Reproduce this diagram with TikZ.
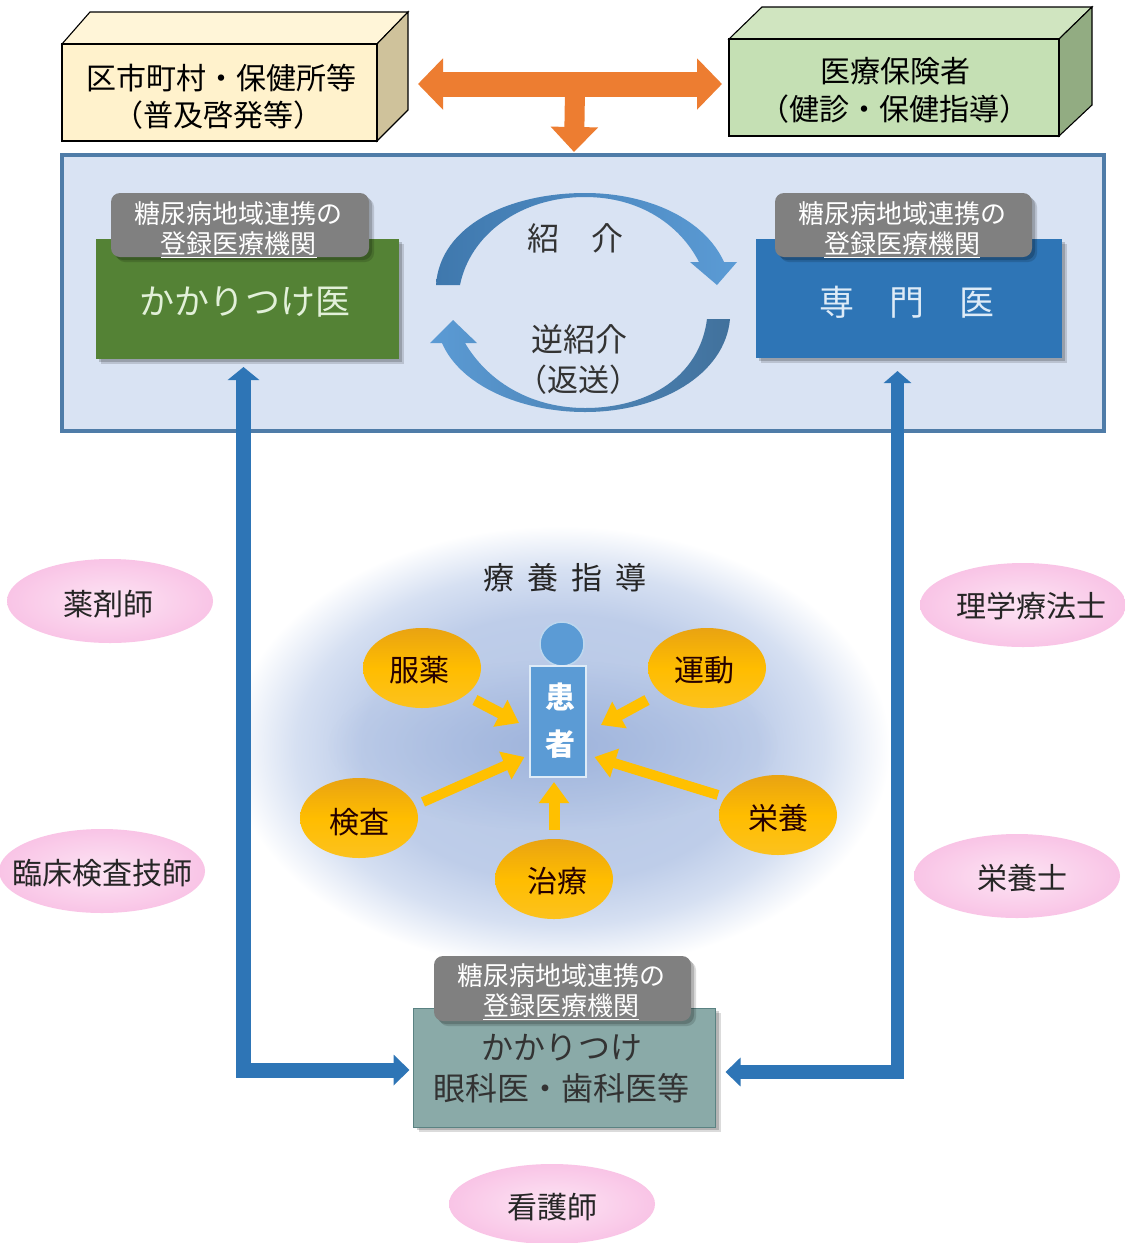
\documentclass[tikz,border=0pt]{standalone}
\usepackage{fontspec}
\setmainfont{Noto Sans CJK JP}
\usetikzlibrary{shapes.geometric,arrows.meta,shadows,fadings,calc}
\definecolor{panelF}{HTML}{D9E3F3}
\definecolor{panelB}{HTML}{4F7CA8}
\definecolor{orangeA}{HTML}{ED7D31}
\definecolor{blueA}{HTML}{2E75B6}
\definecolor{yellowA}{HTML}{FFC000}
\definecolor{glowA}{HTML}{B6C7E6}
\definecolor{glowB}{HTML}{BECDE9}
\definecolor{glowC}{HTML}{D6E0F2}
\definecolor{glowD}{HTML}{9FB4DC}
\definecolor{pinkB}{HTML}{F9C4E6}
\definecolor{goldT}{HTML}{E9A312}
\definecolor{goldB}{HTML}{FCC21E}
\pgfdeclareradialshading{softglow}{\pgfpoint{0bp}{0bp}}{color(0bp)=(glowA); color(15bp)=(glowB); color(20bp)=(glowC); color(25bp)=(white); color(50bp)=(white)}
\tikzfading[name=softc, inner color=transparent!0, outer color=transparent!100]
\newcommand{\lpar}{\makebox[15pt][r]{（}}
\newcommand{\rpar}{\makebox[15pt][l]{）}}
\newcommand{\fs}[1]{\fontsize{#1pt}{#1pt}\selectfont}
\newcommand{\ovtext}[3]{\makebox[0pt]{\hspace{#1pt}\hspace{#1pt}\raisebox{-#2pt}[\height][\depth]{\fs{30}#3}}}
\tikzset{
  x=1pt,y=-1pt,
  plain/.style={inner sep=0pt,outer sep=0pt,align=center},
  softshadow/.style={drop shadow={shadow xshift=3pt,shadow yshift=-3pt,opacity=.18,fill=black},drop shadow={shadow xshift=5pt,shadow yshift=-5pt,opacity=.14,fill=black}},
  facebox/.style={plain,rectangle,draw=black,line width=1.1pt,text=black},
  face/.style={draw=black,line width=1.1pt,line join=miter},
  doctor/.style={plain,rectangle,softshadow},
  regtag/.style={plain,rectangle,rounded corners=9pt,fill=black!50,text=white,minimum width=258pt,minimum height=64pt,softshadow},
  tagtext/.style={plain,text=white,font=\fontsize{26pt}{30pt}\selectfont},
  pinkoval/.style={plain,ellipse,inner color=white!55!pinkB,outer color=pinkB,minimum width=206pt,minimum height=84pt,text=black!85},
  goldoval/.style={plain,ellipse,top color=goldT,bottom color=goldB,middle color=yellowA!95!orange,minimum width=118pt,minimum height=80pt,text=black!85!red},
  yarrow/.style={yellowA,line width=11pt,-{Triangle[length=21pt,width=29pt]}},
  oarrow/.style={orangeA,line width=25pt},
  barrow/.style={blueA,line join=miter},
  curvearrow/.style={line join=miter},
}
\begin{document}
\begin{tikzpicture}
\useasboundingbox (0,0) rectangle (1125,1243);
\fill[white] (0,0) rectangle (1125,1243);
% glow behind the patient group
\shade[shading=softglow] (560,748) ellipse [x radius=330,y radius=222];
\fill[glowD,path fading=softc] (553,745) ellipse [x radius=225,y radius=85];

% top 3D boxes
\path[face,fill={rgb,255:red,255;green,245;blue,216}] (62,44) -- (90,12) -- (408,12) -- (377,44) -- cycle;
\path[face,fill={rgb,255:red,207;green,194;blue,155}] (377,44) -- (408,12) -- (408,110) -- (377,141) -- cycle;
\node[facebox,fill={rgb,255:red,255;green,242;blue,204},minimum width=315pt,minimum height=97pt] (city) at (219.5,92.5) {};
\node[plain] (cityT) at (221,78) {\fs{30}区市町村・保健所等};
\node[plain] (cityU) at (218,115) {\fs{30}\lpar 普及啓発等\rpar};

\path[face,fill={rgb,255:red,208;green,229;blue,192}] (729,39) -- (762,7) -- (1092,7) -- (1059,39) -- cycle;
\path[face,fill={rgb,255:red,146;green,172;blue,130}] (1059,39) -- (1092,7) -- (1092,105) -- (1059,136) -- cycle;
\node[facebox,fill={rgb,255:red,197;green,224;blue,180},minimum width=330pt,minimum height=97pt] (ins) at (894,87.5) {};
\node[plain] (insT) at (895,71) {\fs{30}医療保険者};
\node[plain] (insU) at (894,109) {\fs{30}\lpar 健診・保健指導\rpar};

% panel
\node[plain,rectangle,fill=panelF,draw=panelB,line width=3.5pt,minimum width=1042pt,minimum height=276pt] (panel) at (583,293) {};

% orange arrows
\coordinate (oL) at (418,84);
\coordinate (oR) at (722,84);
\coordinate (oJ) at (575,90);
\coordinate (oD) at (574,152);
\draw[orangeA,line width=20pt,-{Triangle[length=25pt,width=46pt]}] (oJ) -- (oD);
\draw[oarrow,{Triangle[length=25pt,width=50pt]}-{Triangle[length=25pt,width=50pt]}] (oL) -- (oR);

% doctors
\node[doctor,fill={rgb,255:red,84;green,130;blue,53},minimum width=303pt,minimum height=120pt] (gp) at (247.5,299) {};
\node[plain,text={rgb,255:red,226;green,240;blue,217}] (gpT) at (245,302) {\fs{35}かかりつけ医};
\node[regtag] (tagA) at (240,225) {};
\node[tagtext] (tagAT) at (238.5,229.5) {糖尿病地域連携の\\\underline{登録医療機関}};

\node[doctor,fill=blueA,minimum width=306pt,minimum height=119pt] (spec) at (909,298.5) {};
\node[plain,text={rgb,255:red,222;green,235;blue,247}] (specT) at (907,302) {\fs{35}専　門　医};
\node[regtag,minimum width=257pt] (tagB) at (903.5,225) {};
\node[tagtext] (tagBT) at (902,229.5) {糖尿病地域連携の\\\underline{登録医療機関}};

% referral arrows
\path[curvearrow,left color={rgb,255:red,63;green,120;blue,173},right color={rgb,255:red,91;green,155;blue,213}]
 (436,285) .. controls (440,225) and (510,193) .. (585,193) .. controls (650,193) and (705,220) .. (724,262) -- (737,262) -- (717,285) -- (690,262) -- (699,262) .. controls (680,225) and (640,197) .. (585,197) .. controls (520,197) and (470,235) .. (460,285) -- cycle;
\path[curvearrow,left color={rgb,255:red,91;green,155;blue,213},right color={rgb,255:red,65;green,113;blue,156}]
 (730,319) .. controls (725,375) and (660,412) .. (585,412) .. controls (520,412) and (460,385) .. (442,343) -- (430,343) -- (453,320) -- (477,343) -- (465,343) .. controls (490,385) and (535,408) .. (585,408) .. controls (650,408) and (700,375) .. (707,319) -- cycle;
\node[plain,text=black!80] (intro) at (575,238) {\fs{32}紹　介};
\node[plain,text=black!80] (back) at (579,339) {\fs{32}逆紹介};
\node[plain,text=black!80] (backU) at (578,380) {\fs{31}\makebox[16pt][r]{（}返送\makebox[16pt][l]{）}};

% bottom clinic
\node[doctor,fill={rgb,255:red,138;green,170;blue,168},draw={rgb,255:red,90;green,130;blue,130},line width=.8pt,minimum width=302pt,minimum height=119pt] (clinic) at (564.5,1067.5) {};
\node[plain,text=black!80] (clinicT) at (562,1048) {\fs{32}かかりつけ};
\node[plain,text=black!80] (clinicU) at (561,1088) {\fs{32}眼科医・歯科医等};
\node[regtag,minimum width=257pt,minimum height=65pt] (tagC) at (562.5,988.5) {};
\node[tagtext] (tagCT) at (561,992) {糖尿病地域連携の\\\underline{登録医療機関}};

% long blue arrows
\coordinate (lt) at (243.5,367);
\coordinate (rt) at (897.5,371);
\draw[barrow,line width=15pt,{Triangle[length=13pt,width=31pt]}-{Triangle[length=16pt,width=30pt]},shorten >=4pt] (lt) |- ([yshift=-2.5pt]clinic.west);
\draw[barrow,line width=13.5pt,{Triangle[length=12pt,width=27pt]}-{Triangle[length=15pt,width=28pt]},shorten >=10pt] (rt) |- ([yshift=-4.5pt]clinic.east);

% patient
\node[plain,circle,fill={rgb,255:red,91;green,155;blue,213},draw={rgb,255:red,189;green,215;blue,238},line width=1.5pt,minimum size=44pt] (head) at (562,644) {};
\node[plain,rectangle,fill={rgb,255:red,91;green,155;blue,213},draw={rgb,255:red,222;green,235;blue,247},line width=2.5pt,minimum width=56pt,minimum height=111pt] (body) at (558,721.5) {};
\node[plain,text=white,font=\fontsize{30pt}{47pt}\selectfont\bfseries] (bodyT) at (560,721) {患\\者};
\node[plain,text=black!85] (title) at (565,578) {\fs{31}療\hspace{13pt}養\hspace{13pt}指\hspace{13pt}導};

% care ovals
\node[goldoval] (med) at (422,668) {\ovtext{-3}{2}{服薬}};
\node[goldoval] (exe) at (707,668) {\ovtext{-3}{2}{運動}};
\node[goldoval] (lab) at (359,818) {\ovtext{0}{4}{検査}};
\node[goldoval] (nut) at (778,815) {\ovtext{0}{3}{栄養}};
\node[goldoval] (tre) at (554,879) {\ovtext{3}{2}{治療}};
\coordinate (tipMed) at (519,723);
\coordinate (tipExe) at (601,725);
\coordinate (tipLab) at (524.5,757);
\coordinate (tipNut) at (594.5,757);
\coordinate (tipTre) at (554,782);
\draw[yarrow] ($(med)+(53,32)$) -- (tipMed);
\draw[yarrow] ($(exe)+(-60,32)$) -- (tipExe);
\draw[yarrow,line width=10pt] ($(lab)+(64,-16)$) -- (tipLab);
\draw[yarrow,line width=10pt] ($(nut)+(-60,-20)$) -- (tipNut);
\draw[yarrow] ($(tre)+(0,-49)$) -- (tipTre);

% staff ovals
\node[pinkoval] (pharm) at (110,601) {\ovtext{-2}{3}{薬剤師}};
\node[pinkoval] (pt) at (1023,605) {\ovtext{8}{1}{理学療法士}};
\node[pinkoval] (clab) at (102,871) {\ovtext{0}{2}{臨床検査技師}};
\node[pinkoval] (diet) at (1017,876) {\ovtext{5}{2}{栄養士}};
\node[pinkoval,minimum height=80pt] (nurse) at (552,1204) {\ovtext{0}{3}{看護師}};
\end{tikzpicture}
\end{document}
